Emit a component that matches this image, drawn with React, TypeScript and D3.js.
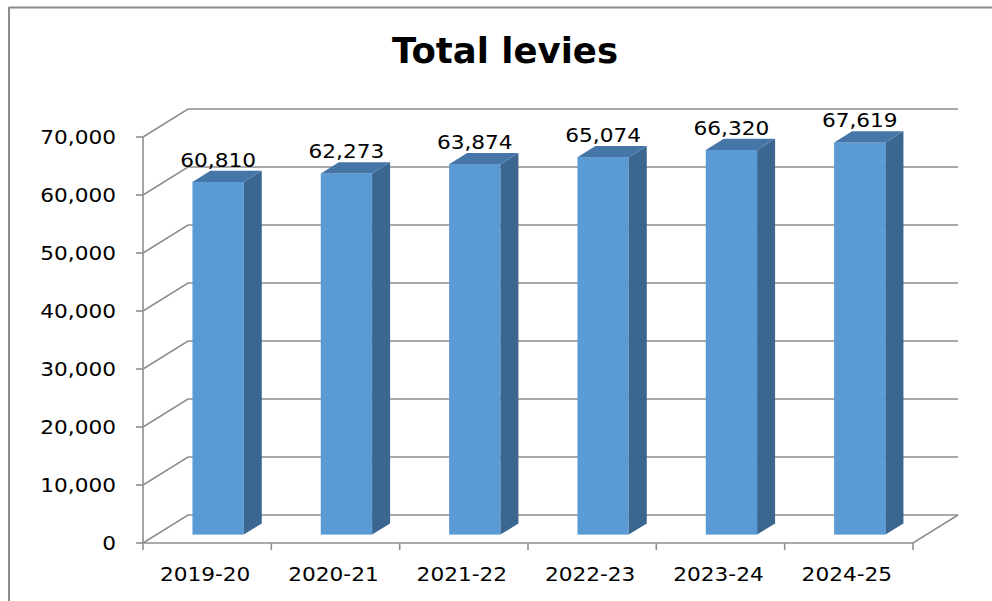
import React from "react";
import * as d3 from "d3";

const categories = ["2019-20", "2020-21", "2021-22", "2022-23", "2023-24", "2024-25"];
const values = [60810, 62273, 63874, 65074, 66320, 67619];
const yTicks = [0, 10000, 20000, 30000, 40000, 50000, 60000, 70000];
const title = "Total levies";

const W = 992;
const H = 601;
const DX = 45;
const DY = -28;
const FONT = "'DejaVu Sans', Verdana, sans-serif";
const SX = 1.14;

export default function App() {
  const y = d3.scaleLinear().domain([0, 70000]).range([543, 137]);
  const x = d3.scaleBand<string>().domain(categories).range([143, 913]).padding(0);
  const bw = x.bandwidth();
  const fmt = d3.format(",");
  const grid = "#8f8f8f";

  const f0 = 0.3; // bar front depth fraction
  const fd = 0.4; // bar depth fraction
  const bdx = DX * fd;
  const bdy = DY * fd;

  const x0 = x.range()[0];
  const x1 = x.range()[1];

  return (
    <svg width={W} height={H} style={{ position: "absolute", left: 0, top: 0, background: "#fff" }}>
      {/* outer frame */}
      <line x1={9} y1={7.5} x2={W} y2={7.5} stroke="#8c8c8c" strokeWidth={2} />
      <line x1={9} y1={7} x2={9} y2={H} stroke="#8c8c8c" strokeWidth={2} />

      {/* title */}
      <text x={505} y={63} textAnchor="middle" fontFamily={FONT} fontWeight="bold" fontSize={35}
        textLength={226} lengthAdjust="spacingAndGlyphs" fill="#000">{title}</text>

      {/* gridlines: left wall diagonal + back wall */}
      {yTicks.map((t) => (
        <path key={"g" + t}
          d={`M${x0},${y(t)} L${x0 + DX},${y(t) + DY} L${x1 + DX},${y(t) + DY}`}
          fill="none" stroke={grid} strokeWidth={1.6} />
      ))}
      {/* floor front and right edges */}
      <path d={`M${x0},${y(0)} L${x1},${y(0)} L${x1 + DX},${y(0) + DY}`} fill="none" stroke={grid} strokeWidth={1.6} />

      {/* y axis */}
      <line x1={x0} y1={y(0)} x2={x0} y2={y(70000)} stroke={grid} strokeWidth={1.6} />
      {yTicks.map((t) => (
        <g key={"yt" + t}>
          <line x1={x0 - 7} y1={y(t)} x2={x0} y2={y(t)} stroke={grid} strokeWidth={1.6} />
          <text transform={`translate(116,${y(t) + 7}) scale(${SX},1)`} textAnchor="end" fontFamily={FONT} fontSize={19} fill="#000">{fmt(t)}</text>
        </g>
      ))}

      {/* x ticks */}
      {d3.range(categories.length + 1).map((i) => {
        const xx = x0 + i * bw;
        return <line key={"xt" + i} x1={xx} y1={y(0)} x2={xx} y2={y(0) + 7} stroke={grid} strokeWidth={1.6} />;
      })}
      {categories.map((c) => (
        <text key={"xl" + c} transform={`translate(${(x(c) as number) + bw / 2 - 2},${581}) scale(${SX},1)`}
          textAnchor="middle" fontFamily={FONT} fontSize={19} fill="#000">{c}</text>
      ))}

      {/* bars */}
      {categories.map((c, i) => {
        const v = values[i];
        const left = (x(c) as number) + bw * 0.28 + DX * f0;
        const wdt = bw * 0.4;
        const bottom = y(0) + DY * f0;
        const top = y(v) + DY * f0;
        const right = left + wdt;
        return (
          <g key={"b" + c}>
            <rect x={left} y={top} width={wdt} height={bottom - top} fill="#5b9bd5" />
            <path d={`M${right},${top} L${right + bdx},${top + bdy} L${right + bdx},${bottom + bdy} L${right},${bottom} Z`} fill="#3a6690" />
            <path d={`M${left},${top} L${left + bdx},${top + bdy} L${right + bdx},${top + bdy} L${right},${top} Z`} fill="#4676a8" />
            <text transform={`translate(${left + wdt / 2},${top + bdy - 4}) scale(${SX},1)`} textAnchor="middle"
              fontFamily={FONT} fontSize={19} fill="#000">{fmt(v)}</text>
          </g>
        );
      })}
    </svg>
  );
}
